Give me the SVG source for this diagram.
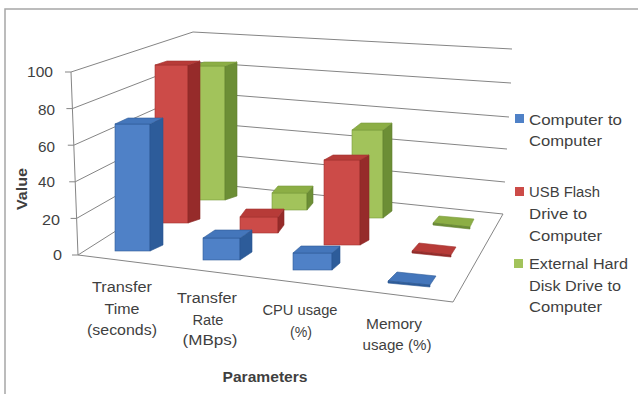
<svg xmlns="http://www.w3.org/2000/svg" width="638" height="394" viewBox="0 0 638 394">
<style>
.grid{stroke:#858585;stroke-width:1;fill:none}
.frame{stroke:#a6a6a6;stroke-width:1.5;fill:none}
.t{font-family:"Liberation Sans",Arial,sans-serif;font-size:14px;fill:#3f3f3f}
.b{font-weight:bold}
.bf{fill:#4f81c7;stroke:#2f5c98;stroke-width:0.6}
.bs{fill:#2d5c9a;stroke:#2a5590;stroke-width:0.6}
.bt{fill:#4476bb;stroke:#2f5c98;stroke-width:0.6}
.rf{fill:#cc4b48;stroke:#a33431;stroke-width:0.6}
.rs{fill:#962b2a;stroke:#8c2826;stroke-width:0.6}
.rt{fill:#b73b38;stroke:#a33431;stroke-width:0.6}
.gf{fill:#a2c35b;stroke:#7a9a3c;stroke-width:0.6}
.gs{fill:#6c8e35;stroke:#627f30;stroke-width:0.6}
.gt{fill:#8cae45;stroke:#7a9a3c;stroke-width:0.6}
</style>
<rect width="638" height="394" fill="#ffffff"/>
<path class="frame" d="M5,394 V9 H638"/>

<g id="walls">
<polyline class="grid" points="71,72 193,32 512,49"/>
<polyline class="grid" points="72.4,108.6 193,62 511,83"/>
<polyline class="grid" points="73.8,145.2 193,92 509,117"/>
<polyline class="grid" points="75.2,181.8 193,122 507,149"/>
<polyline class="grid" points="76.6,218.4 193,152 505,182"/>
<polyline class="grid" points="78,255 193,182 503,214 453,302 78,255"/>
<line class="grid" x1="71" y1="72" x2="78" y2="255"/>
<path class="grid" d="M65,72 H71 M66.4,108.6 H72.4 M67.8,145.2 H73.8 M69.2,181.8 H75.2 M70.6,218.4 H76.6 M72,255 H78"/>
</g>

<g id="series-green">
<g id="g-tt"><rect class="gf" x="192" y="66" width="33" height="134"/><polygon class="gs" points="225,66 237,62 237,196 225,200"/><polygon class="gt" points="192,66 204,62 237,62 225,66"/></g>
<g id="g-tr"><rect class="gf" x="272" y="193" width="35" height="17"/><polygon class="gs" points="307,193 313,186 313,203 307,210"/><polygon class="gt" points="272,193 278,186 313,186 307,193"/></g>
<g id="g-cpu"><rect class="gf" x="352" y="130" width="31" height="88"/><polygon class="gs" points="383,130 392,123 392,211 383,218"/><polygon class="gt" points="352,130 361,123 392,123 383,130"/></g>
<g id="g-mem"><polygon class="gt" points="433,223 439,216 474,219 470,227"/><polygon class="gs" points="433,223 470,227 470,229 433,225"/></g>
</g>

<g id="series-red">
<g id="r-tt"><rect class="rf" x="155" y="65" width="33" height="158"/><polygon class="rs" points="188,65 200,61 200,219 188,223"/><polygon class="rt" points="155,65 167,61 200,61 188,65"/></g>
<g id="r-tr"><rect class="rf" x="240" y="217" width="38" height="16"/><polygon class="rs" points="278,217 284,209 284,225 278,233"/><polygon class="rt" points="240,217 246,209 284,209 278,217"/></g>
<g id="r-cpu"><rect class="rf" x="324" y="160" width="36" height="85"/><polygon class="rs" points="360,160 369,155 369,240 360,245"/><polygon class="rt" points="324,160 333,155 369,155 360,160"/></g>
<g id="r-mem"><polygon class="rt" points="412,251 419,243 456,247 451,255"/><polygon class="rs" points="412,251 451,255 451,257 412,253"/></g>
</g>

<g id="series-blue">
<g id="b-tt"><rect class="bf" x="115" y="124" width="35" height="127"/><polygon class="bs" points="150,124 163,118 163,245 150,251"/><polygon class="bt" points="115,124 128,118 163,118 150,124"/></g>
<g id="b-tr"><rect class="bf" x="203" y="238" width="37" height="22"/><polygon class="bs" points="240,238 252,230 252,252 240,260"/><polygon class="bt" points="203,238 215,230 252,230 240,238"/></g>
<g id="b-cpu"><rect class="bf" x="293" y="253" width="39" height="17"/><polygon class="bs" points="332,253 340,246 340,263 332,270"/><polygon class="bt" points="293,253 301,246 340,246 332,253"/></g>
<g id="b-mem"><polygon class="bt" points="388,281 397,272 436,276 430,285"/><polygon class="bs" points="388,281 430,285 430,287 388,283"/></g>
</g>

<g id="y-axis-labels" class="t" text-anchor="end">
<text x="53" y="77" textLength="26" lengthAdjust="spacingAndGlyphs">100</text>
<text x="55" y="115" textLength="17" lengthAdjust="spacingAndGlyphs">80</text>
<text x="55" y="152" textLength="17" lengthAdjust="spacingAndGlyphs">60</text>
<text x="55" y="187" textLength="17" lengthAdjust="spacingAndGlyphs">40</text>
<text x="60" y="225" textLength="18" lengthAdjust="spacingAndGlyphs">20</text>
<text x="62" y="260" textLength="9" lengthAdjust="spacingAndGlyphs">0</text>
</g>
<text class="t b" transform="translate(27,189) rotate(-90)" text-anchor="middle" font-size="13" textLength="42" lengthAdjust="spacingAndGlyphs">Value</text>

<g id="x-axis-labels" class="t" text-anchor="middle">
<text x="122" y="292" textLength="60" lengthAdjust="spacingAndGlyphs">Transfer</text>
<text x="122" y="314" textLength="35" lengthAdjust="spacingAndGlyphs">Time</text>
<text x="122" y="335" textLength="70" lengthAdjust="spacingAndGlyphs">(seconds)</text>
<text x="207" y="303" textLength="60" lengthAdjust="spacingAndGlyphs">Transfer</text>
<text x="208" y="325" textLength="31" lengthAdjust="spacingAndGlyphs">Rate</text>
<text x="210" y="345" textLength="55" lengthAdjust="spacingAndGlyphs">(MBps)</text>
<text x="300" y="315" textLength="75" lengthAdjust="spacingAndGlyphs">CPU usage</text>
<text x="301" y="337" textLength="22" lengthAdjust="spacingAndGlyphs">(%)</text>
<text x="394" y="329" textLength="56" lengthAdjust="spacingAndGlyphs">Memory</text>
<text x="397" y="350" textLength="69" lengthAdjust="spacingAndGlyphs">usage (%)</text>
</g>
<text class="t b" x="265" y="382" text-anchor="middle" font-size="15" textLength="85" lengthAdjust="spacingAndGlyphs">Parameters</text>

<g id="legend" class="t">
<rect x="515" y="114" width="9" height="9" fill="#4f81c7"/>
<text x="529" y="125" textLength="93" lengthAdjust="spacingAndGlyphs">Computer to</text>
<text x="529" y="146" textLength="73" lengthAdjust="spacingAndGlyphs">Computer</text>
<rect x="515" y="187" width="9" height="9" fill="#cc4b48"/>
<text x="529" y="197" textLength="71" lengthAdjust="spacingAndGlyphs">USB Flash</text>
<text x="529" y="219" textLength="58" lengthAdjust="spacingAndGlyphs">Drive to</text>
<text x="529" y="241" textLength="73" lengthAdjust="spacingAndGlyphs">Computer</text>
<rect x="514" y="259" width="9" height="9" fill="#a2c35b"/>
<text x="529" y="269" textLength="99" lengthAdjust="spacingAndGlyphs">External Hard</text>
<text x="529" y="291" textLength="92" lengthAdjust="spacingAndGlyphs">Disk Drive to</text>
<text x="529" y="312" textLength="73" lengthAdjust="spacingAndGlyphs">Computer</text>
</g>
</svg>
